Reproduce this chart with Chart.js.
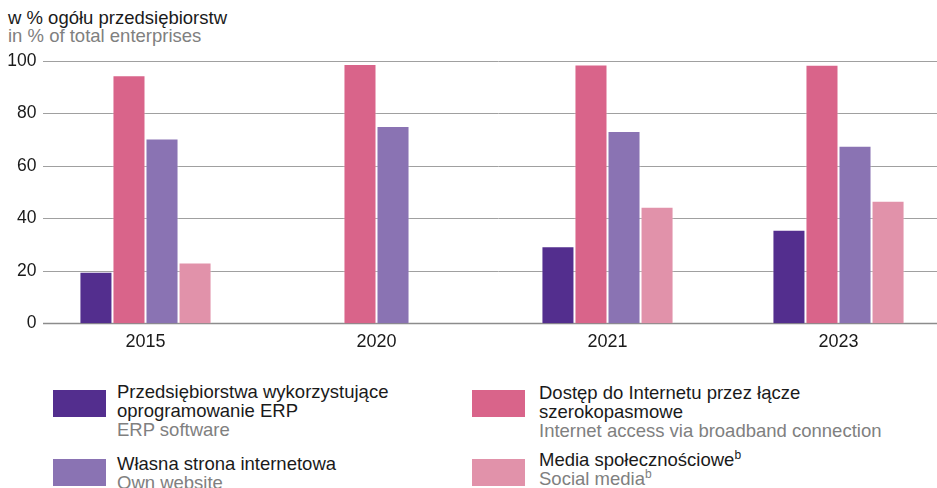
<!DOCTYPE html>
<html>
<head>
<meta charset="utf-8">
<script src="https://cdn.jsdelivr.net/npm/chart.js@4"></script>
<style>
    html, body {
        margin: 0;
        padding: 0;
        background: #fff;
        overflow: hidden;
        width: 937px;
        height: 488px;
        font-family: "Liberation Sans", Arial, sans-serif;
    }
    .title {
        position: absolute;
        left: 8px;
        font-size: 18.5px;
        line-height: 18px;
        white-space: nowrap;
    }
    .pl { color: #1a1a1a; top: 9px; }
    .en { color: #808080; top: 27px; }
    .chart-box {
        position: absolute;
        left: 0;
        top: 0;
        width: 954px;
        height: 365px;
    }
    .legend-item {
        position: absolute;
        font-size: 18.5px;
        line-height: 19px;
    }
    .legend-item .swatch {
        position: absolute;
        left: 0;
        top: 0;
        width: 53px;
        height: 27px;
    }
    .legend-item .text {
        position: absolute;
        white-space: nowrap;
        color: #1a1a1a;
    }
    .legend-item .text .sub { color: #808080; }
    sup { font-size: 12px; line-height: 0; }
</style>
</head>
<body>

<div class="title pl">w % ogółu przedsiębiorstw</div>
<div class="title en">in % of total enterprises</div>

<div class="chart-box"><canvas id="chart"></canvas></div>

<div id="legend"></div>

<script>
const years = ["2015", "2020", "2021", "2023"];

const erp = [19.7, null, 29.4, 35.7];
const broadband = [94.6, 98.9, 98.7, 98.6];
const website = [70.5, 75.2, 73.3, 67.7];
const socialMedia = [23.2, null, 44.5, 46.7];

const yTicks = [0, 20, 40, 60, 80, 100];

const seriesNames = [
    ["Przedsiębiorstwa wykorzystujące<br>oprogramowanie ERP", "ERP software"],
    ["Dostęp do Internetu przez łącze<br>szerokopasmowe", "Internet access via broadband connection"],
    ["Własna strona internetowa", "Own website"],
    ["Media społecznościowe<sup>b</sup>", "Social media<sup>b</sup>"]
];

const colors = ["#532e8e", "#d9648a", "#8a73b3", "#e192aa"];

// legend: [swatch left, swatch top, text left, text top]
const legendPlaces = [
    [53, 390, 117, 382],
    [472, 390, 539, 383],
    [53, 459, 117, 454],
    [472, 459, 539, 450]
];

const legend = document.getElementById("legend");
seriesNames.forEach((names, i) => {
    const p = legendPlaces[i];
    const item = document.createElement("div");
    item.className = "legend-item";
    item.style.left = p[0] + "px";
    item.style.top = p[1] + "px";
    item.innerHTML = `
        <div class="swatch" style="background:${colors[i]}"></div>
        <div class="text" style="left:${p[2] - p[0]}px;top:${p[3] - p[1]}px">${names[0]}<br><span class="sub">${names[1]}</span></div>
    `;
    legend.appendChild(item);
});

// gridlines start a little right of the chart area, like the original
const gridPlugin = {
    id: "gridFrom",
    beforeDatasetsDraw(chart) {
        const ctx = chart.ctx;
        const area = chart.chartArea;
        const y = chart.scales.y;
        ctx.save();
        yTicks.forEach(t => {
            const py = Math.round(y.getPixelForValue(t)) + 0.5;
            ctx.beginPath();
            ctx.strokeStyle = t === 0 ? "#8c8c8c" : "#a0a0a0";
            ctx.lineWidth = t === 0 ? 1.5 : 1;
            ctx.moveTo(area.left + 13, py);
            ctx.lineTo(area.right, py);
            ctx.stroke();
        });
        ctx.restore();
    }
};

const datasets = [erp, broadband, website, socialMedia].map((values, i) => ({
    data: values,
    backgroundColor: colors[i],
    borderColor: "rgba(255,255,255,0.45)",
    borderWidth: 1,
    borderSkipped: "bottom",
    categoryPercentage: 0.572,
    barPercentage: 1
}));

new Chart(document.getElementById("chart"), {
    type: "bar",
    data: { labels: years, datasets },
    plugins: [gridPlugin],
    options: {
        responsive: true,
        maintainAspectRatio: false,
        animation: false,
        layout: { padding: { top: 61, bottom: 4, left: 0, right: 0 } },
        plugins: {
            legend: { display: false },
            tooltip: { enabled: false }
        },
        scales: {
            x: {
                grid: { display: false, drawTicks: false },
                border: { display: false },
                ticks: {
                    color: "#1a1a1a",
                    padding: 8,
                    font: { family: "Liberation Sans", size: 18 }
                }
            },
            y: {
                min: 0,
                max: 100,
                afterFit(scale) { scale.width = 30; },
                afterBuildTicks(scale) { scale.ticks = yTicks.map(v => ({ value: v })); },
                grid: { display: false, drawTicks: false },
                border: { display: false },
                ticks: {
                    color: "#1a1a1a",
                    mirror: true,
                    crossAlign: "far",
                    padding: -22.7,
                    font: { family: "Liberation Sans", size: 17.5 }
                }
            }
        }
    }
});
</script>
</body>
</html>
